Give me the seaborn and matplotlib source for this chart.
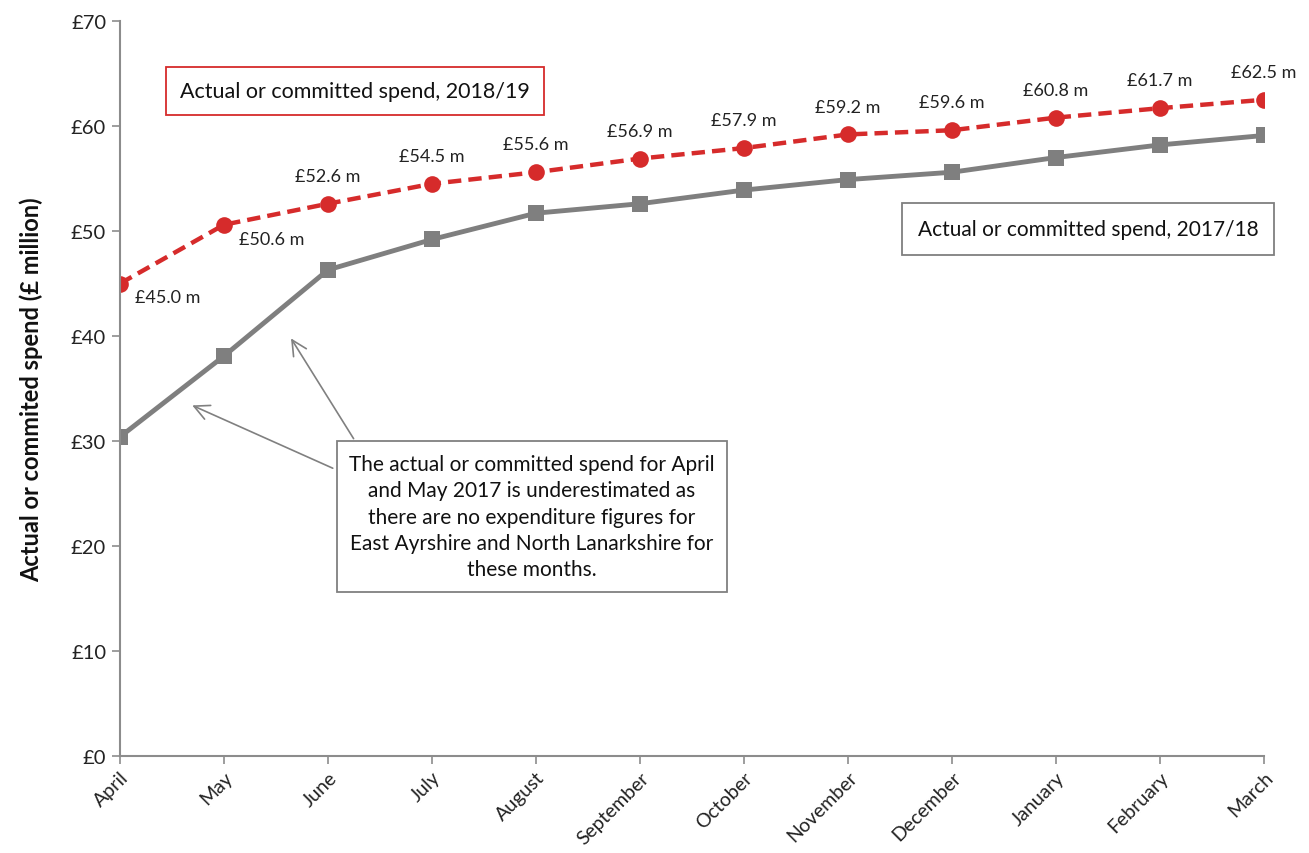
import matplotlib
matplotlib.use("Agg")
import matplotlib.pyplot as plt
import seaborn as sns
import pandas as pd

months = ["April", "May", "June", "July", "August", "September", "October",
          "November", "December", "January", "February", "March"]
spend_2018 = [45.0, 50.6, 52.6, 54.5, 55.6, 56.9, 57.9, 59.2, 59.6, 60.8, 61.7, 62.5]
spend_2017 = [30.4, 38.1, 46.3, 49.2, 51.7, 52.6, 53.9, 54.9, 55.6, 57.0, 58.2, 59.1]
label_2018 = ["£45.0 m", "£50.6 m", "£52.6 m", "£54.5 m", "£55.6 m", "£56.9 m",
              "£57.9 m", "£59.2 m", "£59.6 m", "£60.8 m", "£61.7 m", "£62.5 m"]
yticks = [0, 10, 20, 30, 40, 50, 60, 70]
ytick_labels = ["£0", "£10", "£20", "£30", "£40", "£50", "£60", "£70"]

sns.set_theme(style="white")
plt.rcParams["font.family"] = ["Lato", "DejaVu Sans"]

df = pd.DataFrame({"month": list(range(len(months))) * 2,
                   "spend": spend_2017 + spend_2018,
                   "series": ["2017/18"] * 12 + ["2018/19"] * 12})

fig = plt.figure(figsize=(13.09, 8.54), dpi=100)
ax = fig.add_axes([0.0917, 0.1136, 0.8739, 0.8606])

grey = "#7f7f7f"
red = "#d62b2b"
sns.lineplot(data=df[df.series == "2017/18"], x="month", y="spend", ax=ax,
             color=grey, linewidth=3.5, marker="s", markersize=11.5,
             markeredgewidth=0, legend=False)
sns.lineplot(data=df[df.series == "2018/19"], x="month", y="spend", ax=ax,
             color=red, linewidth=3.2, marker="o", markersize=12,
             markeredgewidth=0, legend=False, linestyle=(0, (3, 1.6)))

ax.set_xlim(0, 11)
ax.set_ylim(0, 70)
ax.set_xticks(range(len(months)))
ax.set_xticklabels(months, rotation=45, ha="right", rotation_mode="anchor",
                   fontsize=14, color="#222222")
ax.set_yticks(yticks)
ax.set_yticklabels(ytick_labels, fontsize=14.5, color="#222222")
ax.tick_params(axis="both", which="major", length=6, width=1.2, color="#8c8c8c",
               direction="out", bottom=True, left=True, pad=4)
ax.tick_params(axis="x", pad=3)
for s in ["top", "right"]:
    ax.spines[s].set_visible(False)
for s in ["left", "bottom"]:
    ax.spines[s].set_color("#8c8c8c")
    ax.spines[s].set_linewidth(1.5)
ax.set_xlabel("")
ax.set_ylabel("Actual or commited spend (£ million)", fontsize=17,
              fontweight="bold", color="#111111", labelpad=20)

# data labels
for i, (v, lab) in enumerate(zip(spend_2018, label_2018)):
    if i < 2:
        ax.annotate(lab, (i, v), xytext=(34, -10), textcoords="offset points",
                    ha="center", va="center", fontsize=13, color="#222222")
    else:
        ax.annotate(lab, (i, v), xytext=(0, 20), textcoords="offset points",
                    ha="center", va="center", fontsize=13, color="#222222")

# series labels
ax.text(0.58, 63.3, "Actual or committed spend, 2018/19", fontsize=15.5,
        ha="left", va="center", color="#111111",
        bbox=dict(boxstyle="square,pad=0.65", fc="white", ec=red, lw=1.3))
ax.text(7.67, 50.2, "Actual or committed spend, 2017/18", fontsize=15,
        ha="left", va="center", color="#111111",
        bbox=dict(boxstyle="square,pad=0.75", fc="white", ec="#7f7f7f", lw=1.3))

# note with arrows
note = ("The actual or committed spend for April\nand May 2017 is underestimated as\n"
        "there are no expenditure figures for\nEast Ayrshire and North Lanarkshire for\n"
        "these months.")
ax.annotate("", xy=(1.63, 40.0), xytext=(2.26, 30.0),
            arrowprops=dict(arrowstyle="->,head_length=0.9,head_width=0.45",
                        color="#808080", lw=1.2))
ax.annotate("", xy=(0.67, 33.5), xytext=(2.07, 27.3),
            arrowprops=dict(arrowstyle="->,head_length=0.9,head_width=0.45",
                        color="#808080", lw=1.2))
ax.text(3.96, 22.8, note, fontsize=15, ha="center", va="center",
        color="#111111", linespacing=1.4,
        bbox=dict(boxstyle="square,pad=0.6", fc="white", ec="#808080", lw=1.3))

fig.savefig("out.png", dpi=100)
